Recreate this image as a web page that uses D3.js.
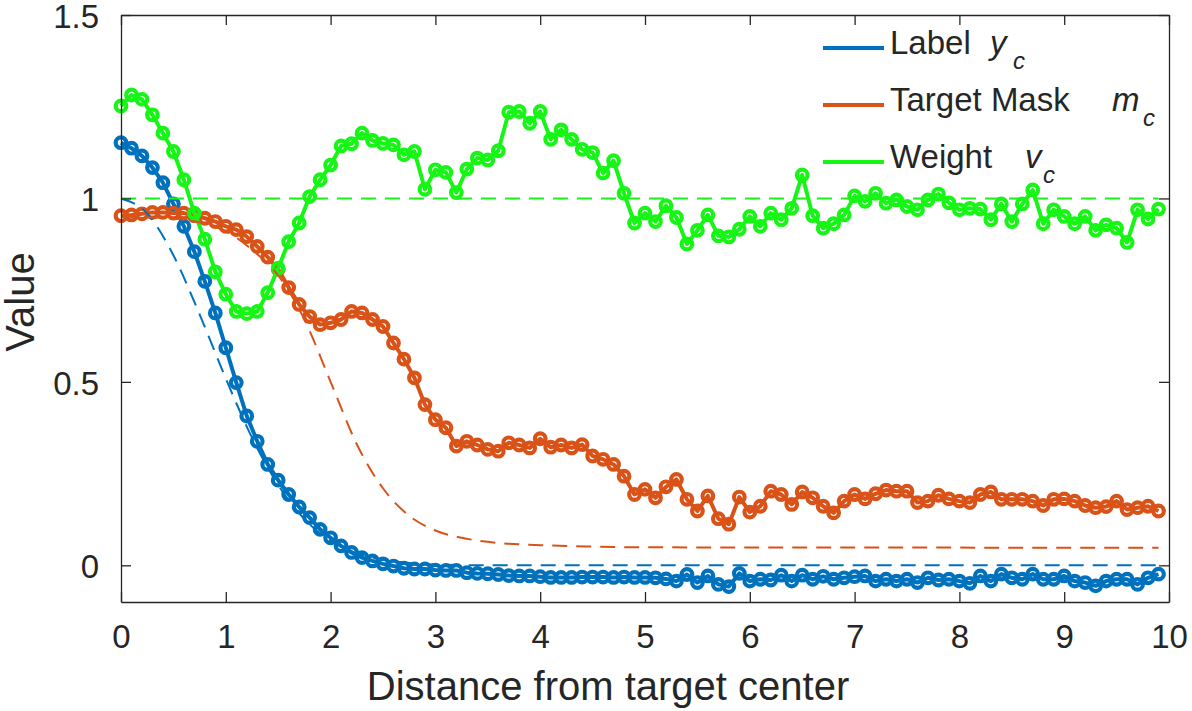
<!DOCTYPE html>
<html>
<head>
<meta charset="utf-8">
<script src="https://cdn.jsdelivr.net/npm/d3@7"></script>
<style>
  body { margin: 0; background: #fff; }
  svg text { font-family: "Liberation Sans", Arial, Helvetica, sans-serif; fill: #262626; }
</style>
</head>
<body>
<svg id="chart" width="1192" height="711"></svg>
<script>
// sample grid: distance from target center, step 0.1
const distance = d3.range(100).map(i => +(i * 0.1).toFixed(1));

// label y_c (blue, markers)
const labelY = [
  1.152, 1.137, 1.116, 1.084, 1.043, 0.985, 0.924, 0.855, 0.774, 0.688,
  0.593, 0.498, 0.407, 0.338, 0.275, 0.232, 0.193, 0.159, 0.130, 0.098,
  0.075, 0.053, 0.035, 0.021, 0.012, 0.004, -0.002, -0.008, -0.010, -0.010,
  -0.013, -0.014, -0.014, -0.020, -0.022, -0.023, -0.025, -0.028, -0.029, -0.029,
  -0.031, -0.033, -0.033, -0.033, -0.032, -0.032, -0.032, -0.033, -0.032, -0.033,
  -0.033, -0.034, -0.037, -0.043, -0.025, -0.047, -0.029, -0.052, -0.058, -0.022,
  -0.043, -0.038, -0.040, -0.027, -0.043, -0.027, -0.038, -0.030, -0.038, -0.034,
  -0.031, -0.029, -0.043, -0.038, -0.043, -0.038, -0.047, -0.034, -0.040, -0.038,
  -0.043, -0.049, -0.029, -0.043, -0.024, -0.034, -0.038, -0.024, -0.038, -0.038,
  -0.029, -0.043, -0.047, -0.056, -0.043, -0.038, -0.038, -0.052, -0.034, -0.024
];

// target mask m_c (orange, markers)
const maskM = [
  0.953, 0.955, 0.958, 0.962, 0.962, 0.960, 0.960, 0.953, 0.946, 0.937,
  0.924, 0.915, 0.896, 0.869, 0.840, 0.807, 0.757, 0.711, 0.678, 0.656,
  0.661, 0.670, 0.692, 0.688, 0.670, 0.651, 0.606, 0.562, 0.511, 0.438,
  0.397, 0.375, 0.325, 0.338, 0.328, 0.316, 0.311, 0.334, 0.328, 0.320,
  0.345, 0.322, 0.328, 0.320, 0.329, 0.298, 0.289, 0.275, 0.243, 0.193,
  0.207, 0.184, 0.214, 0.234, 0.180, 0.148, 0.189, 0.127, 0.112, 0.186,
  0.145, 0.161, 0.202, 0.193, 0.166, 0.200, 0.184, 0.161, 0.143, 0.175,
  0.193, 0.181, 0.195, 0.205, 0.202, 0.202, 0.171, 0.175, 0.191, 0.181,
  0.175, 0.171, 0.193, 0.200, 0.180, 0.180, 0.180, 0.175, 0.163, 0.180,
  0.181, 0.175, 0.163, 0.157, 0.160, 0.175, 0.152, 0.157, 0.161, 0.148
];

// weight v_c (green, markers)
const weightV = [
  1.252, 1.282, 1.270, 1.228, 1.178, 1.128, 1.051, 0.960, 0.889, 0.800,
  0.739, 0.692, 0.686, 0.692, 0.743, 0.810, 0.882, 0.933, 1.005, 1.051,
  1.091, 1.143, 1.149, 1.178, 1.158, 1.150, 1.146, 1.119, 1.128, 1.025,
  1.078, 1.071, 1.016, 1.080, 1.110, 1.105, 1.130, 1.235, 1.237, 1.205,
  1.237, 1.161, 1.187, 1.161, 1.134, 1.125, 1.069, 1.103, 1.014, 0.933,
  0.960, 0.937, 0.980, 0.948, 0.876, 0.913, 0.955, 0.898, 0.895, 0.916,
  0.951, 0.924, 0.960, 0.942, 0.973, 1.064, 0.953, 0.919, 0.931, 0.955,
  1.007, 0.992, 1.014, 0.987, 0.996, 0.978, 0.969, 0.996, 1.012, 0.988,
  0.969, 0.973, 0.971, 0.942, 0.985, 0.937, 0.985, 1.023, 0.931, 0.969,
  0.951, 0.931, 0.951, 0.913, 0.928, 0.919, 0.880, 0.969, 0.944, 0.971
];

// dashed reference curves, read at coarser points
const labelRefX = [0, 0.25, 0.5, 0.75, 1, 1.25, 1.5, 1.75, 2, 2.25, 2.5, 2.75, 3, 3.5, 9.9];
const labelRefY = [1.0, 0.959, 0.845, 0.684, 0.509, 0.348, 0.219, 0.126, 0.067, 0.033, 0.015, 0.006, 0.002, 0, 0];
const maskRefX = [0, 0.5, 1, 1.25, 1.5, 1.75, 2, 2.25, 2.5, 2.75, 3, 3.25, 3.5, 4, 4.5, 5, 9.9];
const maskRefY = [0.95, 0.945, 0.91, 0.86, 0.79, 0.67, 0.50, 0.33, 0.21, 0.135, 0.095, 0.075, 0.064, 0.055, 0.051, 0.049, 0.048];
const weightRefX = [0, 9.9];
const weightRefY = [1, 1];

const xTicks = [0, 1, 2, 3, 4, 5, 6, 7, 8, 9, 10];
const yTicks = [0, 0.5, 1, 1.5];

const blue = '#0072bd', orange = '#d95319', green = '#16f516';
const axisColor = '#262626';

const width = 1192, height = 711;
const margin = {top: 15, right: 23, bottom: 109, left: 121};
const innerW = width - margin.left - margin.right;
const innerH = height - margin.top - margin.bottom;

const svg = d3.select('#chart');
const g = svg.append('g').attr('transform', `translate(${margin.left},${margin.top})`);

const x = d3.scaleLinear().domain([0, 10]).range([0, innerW]);
const y = d3.scaleLinear().domain([-0.1, 1.5]).range([innerH, 0]);

const zip = (xs, ys) => xs.map((d, i) => [d, ys[i]]);

const series = [
  {name: 'Label', sym: 'y', color: blue, pts: zip(distance, labelY)},
  {name: 'Target Mask', sym: 'm', color: orange, pts: zip(distance, maskM)},
  {name: 'Weight', sym: 'v', color: green, pts: zip(distance, weightV)}
];
const refs = [
  {color: blue, pts: zip(labelRefX, labelRefY)},
  {color: orange, pts: zip(maskRefX, maskRefY)},
  {color: green, pts: zip(weightRefX, weightRefY)}
];

const line = d3.line().x(d => x(d[0])).y(d => y(d[1]));
const smooth = d3.line().x(d => x(d[0])).y(d => y(d[1])).curve(d3.curveMonotoneX);

// solid lines with open circle markers
series.forEach(s => {
  g.append('path')
      .attr('d', line(s.pts))
      .attr('fill', 'none')
      .attr('stroke', s.color)
      .attr('stroke-width', 4)
      .attr('stroke-linejoin', 'round');
  g.append('g').selectAll('circle')
      .data(s.pts)
      .join('circle')
      .attr('cx', d => x(d[0]))
      .attr('cy', d => y(d[1]))
      .attr('r', 5.3)
      .attr('fill', 'none')
      .attr('stroke', s.color)
      .attr('stroke-width', 4.2);
});

// dashed reference curves on top
refs.forEach(r => {
  g.append('path')
      .attr('d', smooth(r.pts))
      .attr('fill', 'none')
      .attr('stroke', r.color)
      .attr('stroke-width', 2)
      .attr('stroke-dasharray', '15,9');
});

// box axes, ticks inward on all four sides
const tickLen = 10;
const styleAxis = sel => {
  sel.selectAll('path.domain').attr('stroke', axisColor).attr('stroke-width', 1.3);
  sel.selectAll('.tick line').attr('stroke', axisColor).attr('stroke-width', 1.3);
  sel.selectAll('.tick text').attr('font-size', 33).attr('fill', axisColor);
};

g.append('g')
    .attr('transform', `translate(0,${innerH})`)
    .call(d3.axisBottom(x).tickValues(xTicks).tickFormat(d3.format('d'))
      .tickSizeInner(-tickLen).tickSizeOuter(0).tickPadding(23))
    .call(styleAxis);
g.append('g')
    .call(d3.axisTop(x).tickValues(xTicks).tickFormat('')
      .tickSizeInner(-tickLen).tickSizeOuter(0))
    .call(styleAxis);
g.append('g')
    .call(d3.axisLeft(y).tickValues(yTicks).tickFormat(d => String(d))
      .tickSizeInner(-tickLen).tickSizeOuter(0).tickPadding(22))
    .call(styleAxis)
    .selectAll('.tick text').attr('dy', '0.38em');
g.append('g')
    .attr('transform', `translate(${innerW},0)`)
    .call(d3.axisRight(y).tickValues(yTicks).tickFormat('')
      .tickSizeInner(-tickLen).tickSizeOuter(0))
    .call(styleAxis);
g.selectAll('.domain').attr('fill', 'none');

// axis titles
svg.append('text')
    .attr('x', 608)
    .attr('y', 700)
    .attr('text-anchor', 'middle')
    .attr('font-size', 40)
    .text('Distance from target center');
svg.append('text')
    .attr('transform', 'translate(34,302) rotate(-90)')
    .attr('text-anchor', 'middle')
    .attr('font-size', 40)
    .text('Value');

// legend (lines only, tex-like symbol with subscript)
const legendRows = [
  {lineY: 48, symX: 990, subX: 1013},
  {lineY: 105, symX: 1112, subX: 1143},
  {lineY: 162, symX: 1025, subX: 1043}
];
const legend = svg.append('g');
series.forEach((s, i) => {
  const row = legendRows[i];
  legend.append('line')
      .attr('x1', 823).attr('x2', 884)
      .attr('y1', row.lineY).attr('y2', row.lineY)
      .attr('stroke', s.color)
      .attr('stroke-width', 4);
  legend.append('text')
      .attr('x', 890)
      .attr('y', row.lineY + 5.5)
      .attr('font-size', 33)
      .text(s.name);
  const t = legend.append('text')
      .attr('x', row.symX)
      .attr('y', row.lineY + 5.5)
      .attr('font-size', 33)
      .attr('font-style', 'italic');
  t.append('tspan').text(s.sym);
  t.append('tspan')
      .attr('x', row.subX)
      .attr('dy', 15)
      .attr('font-size', 24)
      .text('c');
});
</script>
</body>
</html>
